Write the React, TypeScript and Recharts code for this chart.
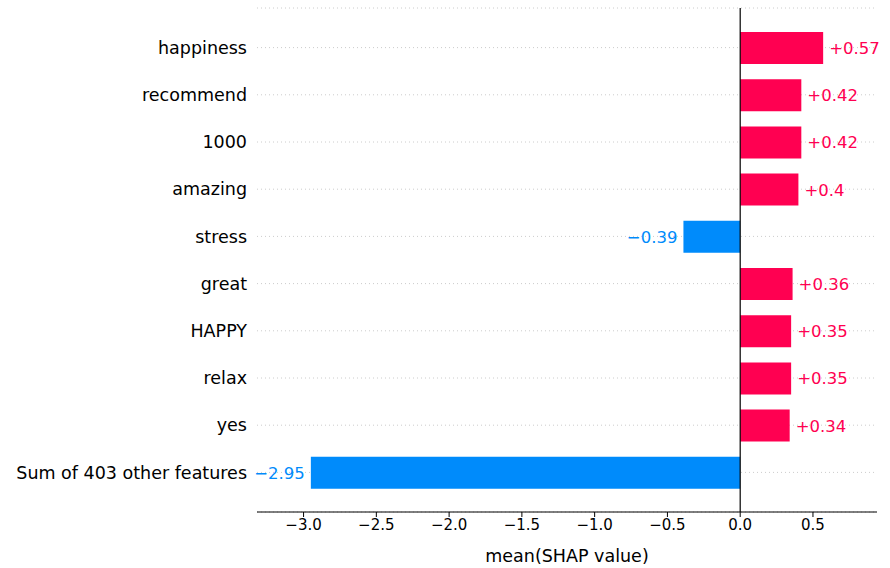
import { BarChart, Bar, XAxis, YAxis, CartesianGrid, Cell, LabelList, ReferenceLine } from 'recharts'

const features = ['happiness', 'recommend', '1000', 'amazing', 'stress', 'great', 'HAPPY', 'relax', 'yes', 'Sum of 403 other features']
const shapValues = [0.57, 0.42, 0.42, 0.4, -0.39, 0.36, 0.35, 0.35, 0.34, -2.95]
const xTicks = [-3, -2.5, -2, -1.5, -1, -0.5, 0, 0.5]

const POS = '#ff0051'
const NEG = '#008bfb'
const FONT = '"DejaVu Sans", sans-serif'

const data = features.map((f, i) => ({ feature: f, value: shapValues[i] }))

const fmtTick = (v: number) => (v < 0 ? '\u2212' : '') + Math.abs(v).toFixed(1)
const fmtVal = (v: number) => (v < 0 ? '\u2212' : '+') + Math.abs(v)

// eslint-disable-next-line @typescript-eslint/no-explicit-any
const ValueLabel = (props: any) => {
  const { x, y, width, height, value } = props
  const neg = value < 0
  const end = x + width
  const lx = neg ? Math.min(x, end) - 6 : Math.max(x, end) + 6
  return (
    <text x={lx} y={y + height / 2} dy={6} textAnchor={neg ? 'end' : 'start'}
      fill={neg ? NEG : POS} fontSize={16.5} fontFamily={FONT}>
      {fmtVal(value)}
    </text>
  )
}

export default function App() {
  return (
    <div style={{ position: 'absolute', left: 0, top: 0, background: '#fff' }}>
      <BarChart width={890} height={568} data={data} layout="vertical"
        margin={{ top: 8, right: 13, left: 0, bottom: 26 }}>
        <CartesianGrid horizontal vertical={false} stroke="#cccccc" strokeDasharray="1 3" />
        <XAxis type="number" domain={[-3.32, 0.94]} ticks={xTicks} tickFormatter={fmtTick}
          allowDataOverflow tick={{ fontSize: 15, fill: '#000', fontFamily: FONT }}
          axisLine={{ stroke: '#000' }} tickLine={{ stroke: '#000' }} tickSize={5}
          label={{ value: 'mean(SHAP value)', position: 'insideBottom', offset: -20, fontSize: 17.5, fill: '#000', fontFamily: FONT }} />
        <YAxis type="category" dataKey="feature" width={257} axisLine={false} tickLine={false}
          padding={{ top: 16, bottom: 16 }} interval={0}
          tick={{ fontSize: 17.5, fill: '#000', fontFamily: FONT }} tickMargin={4} />
        <ReferenceLine x={0} stroke="#000" strokeWidth={1.2} />
        <Bar dataKey="value" isAnimationActive={false} barSize={32}>
          {data.map((d) => (
            <Cell key={d.feature} fill={d.value < 0 ? NEG : POS} />
          ))}
          <LabelList dataKey="value" content={ValueLabel} />
        </Bar>
      </BarChart>
    </div>
  )
}
